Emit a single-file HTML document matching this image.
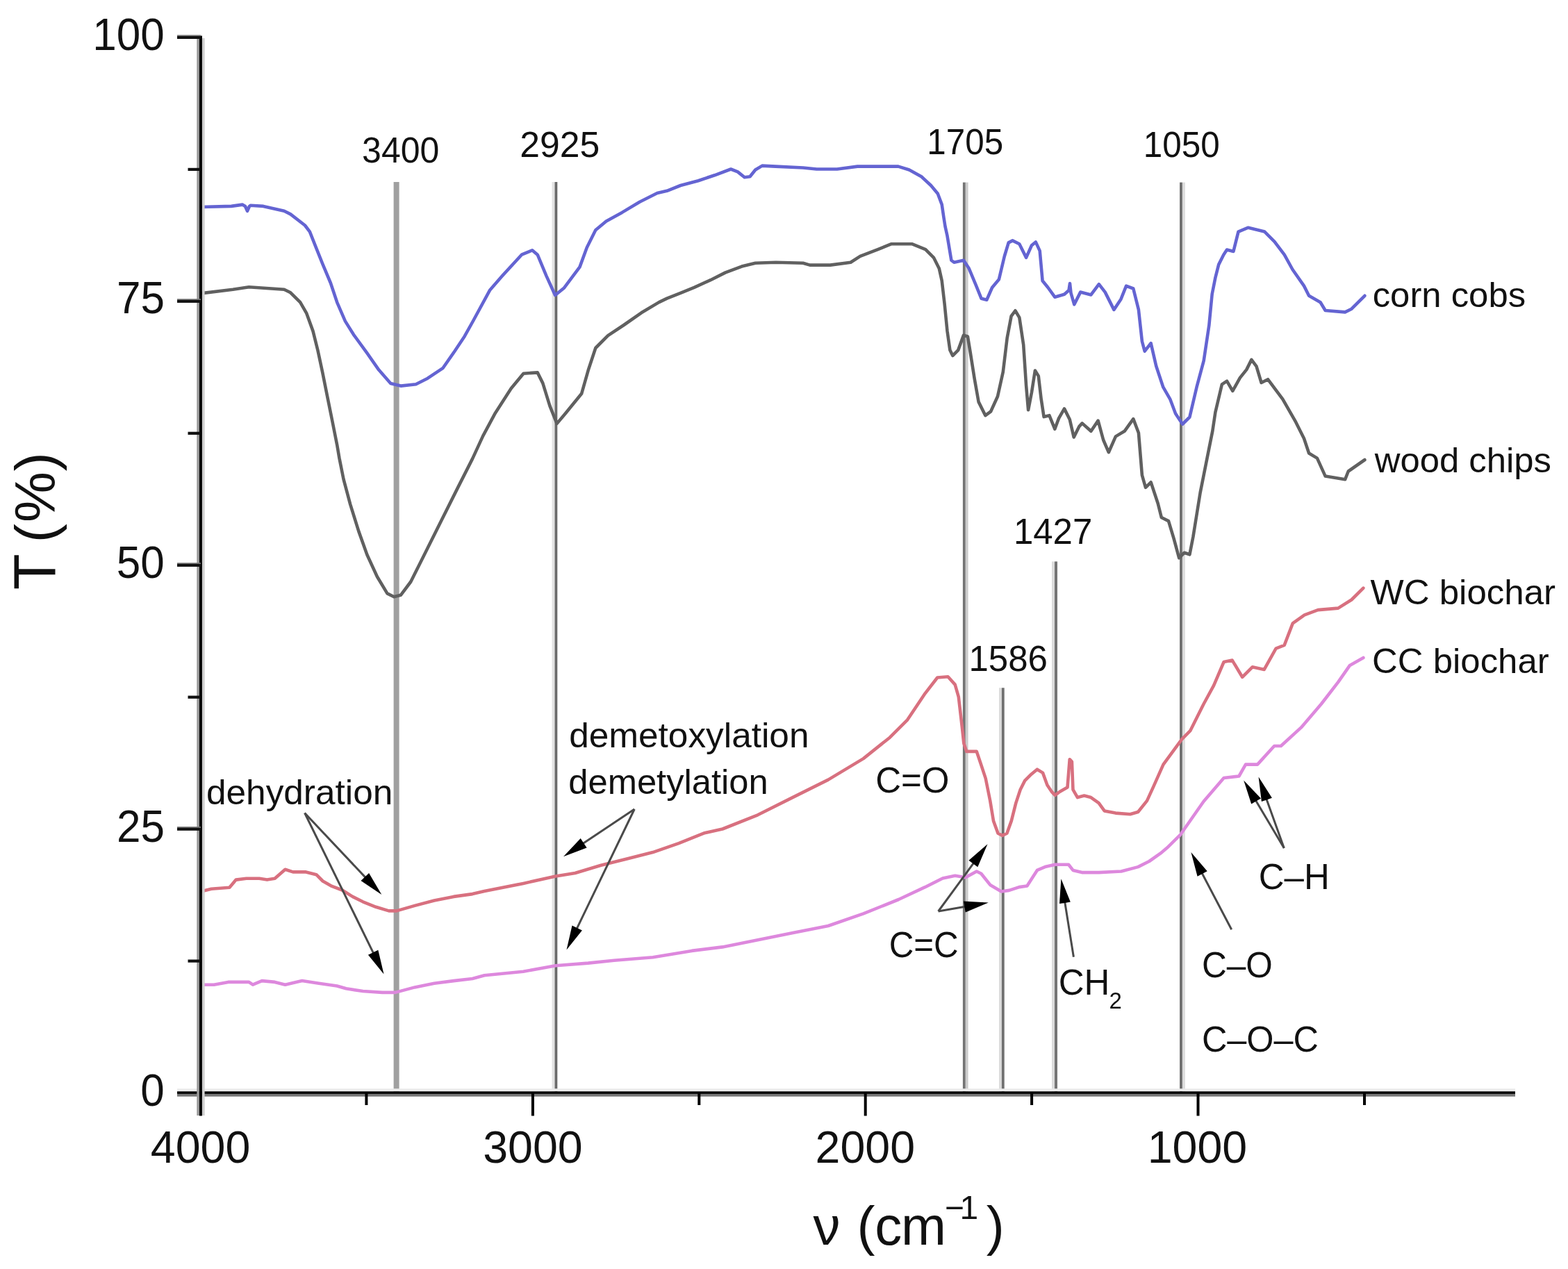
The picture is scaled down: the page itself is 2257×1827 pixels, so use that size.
<!DOCTYPE html>
<html><head><meta charset="utf-8"><title>FTIR spectra</title><style>html,body{margin:0;padding:0;background:#fff;}body{width:2257px;height:1827px;overflow:hidden;}svg{display:block;}</style></head><body>
<svg width="2257" height="1827" viewBox="0 0 2257 1827" font-family="'Liberation Sans', Arial, Helvetica, sans-serif">
<rect width="2257" height="1827" fill="#fff"/>
<rect x="566.6" y="262" width="8" height="1310" fill="#a0a0a0"/>
<rect x="794.5" y="262" width="4" height="1310" fill="#e3e3e3"/>
<rect x="798.5" y="262" width="3.8" height="1310" fill="#6a6a6a"/>
<rect x="1385.9" y="262.6" width="3.9" height="1310" fill="#747474"/>
<rect x="1389.8" y="262.6" width="3.8" height="1310" fill="#cccccc"/>
<rect x="1438" y="990.3" width="3.9" height="582" fill="#dcdcdc"/>
<rect x="1441.9" y="990.3" width="3.8" height="582" fill="#707070"/>
<rect x="1514" y="808.4" width="4" height="764" fill="#dcdcdc"/>
<rect x="1518" y="808.4" width="4" height="764" fill="#757575"/>
<rect x="1698.1" y="262.6" width="3.8" height="1310" fill="#6c6c6c"/>
<rect x="1701.9" y="262.6" width="3.9" height="1310" fill="#dcdcdc"/>
<g fill="none" stroke-linejoin="round" stroke-linecap="round">
<polyline points="289.2,298.0 333.0,296.9 349.1,294.6 353.0,297.0 356.0,303.8 359.0,297.0 360.6,295.7 379.0,296.9 409.0,303.8 418.2,308.4 439.0,324.5 445.9,333.7 455.1,356.8 464.3,379.8 475.9,407.5 485.1,435.1 496.9,462.4 509.0,481.8 528.4,508.4 545.3,532.6 562.3,551.9 576.8,555.6 598.6,553.2 615.5,544.7 637.3,530.2 654.2,506.0 668.7,484.2 680.5,463.0 705.3,417.4 723.1,397.1 750.9,366.7 766.1,360.3 773.7,366.7 786.4,397.1 799.1,425.0 811.7,414.8 834.5,384.4 844.7,356.5 857.3,331.2 872.6,318.5 895.4,305.9 920.7,290.7 946.0,278.0 960.0,274.8 979.6,267.0 1005.0,260.2 1028.6,252.3 1052.0,243.5 1061.9,247.4 1071.7,255.3 1079.5,254.3 1087.3,244.5 1097.1,238.6 1116.7,239.6 1155.9,241.5 1175.5,243.5 1204.9,243.5 1234.2,239.6 1293.0,239.6 1308.7,244.5 1326.3,254.3 1340.0,267.0 1349.8,278.8 1355.7,294.4 1358.6,314.0 1360.5,326.0 1363.5,339.6 1369.4,374.8 1373.3,377.8 1387.0,374.8 1394.8,386.6 1404.6,410.1 1412.5,429.7 1420.3,431.7 1428.1,414.0 1437.9,402.3 1445.8,369.0 1451.7,349.4 1457.5,346.4 1467.3,351.3 1477.1,370.9 1485.0,353.3 1490.8,348.4 1496.7,361.1 1500.6,404.2 1508.5,414.0 1518.3,427.7 1532.0,423.8 1538.5,418.0 1540.0,408.1 1541.5,421.9 1546.3,438.3 1555.2,420.6 1570.4,424.4 1581.8,409.2 1590.7,420.6 1603.4,445.9 1613.5,430.7 1621.1,411.7 1631.3,415.5 1638.9,445.9 1643.9,491.5 1647.7,505.7 1656.6,494.1 1664.2,527.0 1674.3,557.4 1684.5,575.2 1692.1,595.5 1702.2,610.7 1712.4,600.5 1722.5,557.4 1732.7,519.4 1740.3,468.7 1744.7,423.4 1749.4,399.8 1754.2,380.9 1761.3,366.7 1766.0,359.6 1775.4,362.0 1782.5,333.6 1796.7,327.7 1820.3,333.6 1834.5,347.8 1848.7,366.7 1860.5,388.0 1877.0,411.6 1884.1,425.8 1900.6,435.2 1907.7,447.0 1936.1,449.4 1945.5,444.7 1964.4,425.8" stroke="#6464d2" stroke-width="4.6"/>
<polyline points="289.2,422.4 335.3,416.7 358.3,413.2 409.0,416.7 418.2,421.3 432.1,435.1 441.3,451.2 450.5,476.6 457.4,504.2 464.3,536.5 471.2,571.0 478.2,605.6 485.1,640.2 488.5,660.0 494.5,689.9 504.2,726.1 516.3,764.9 528.4,798.7 542.9,830.2 557.4,854.4 567.1,859.2 576.8,856.8 591.3,837.5 610.7,798.7 634.9,750.3 659.1,701.9 680.0,660.6 695.2,627.6 712.9,594.7 735.7,559.2 753.5,537.7 773.7,536.4 781.3,551.6 791.5,584.6 801.6,609.9 814.3,594.7 837.1,566.8 847.2,531.4 857.3,501.0 875.1,483.2 897.9,468.0 923.2,450.3 948.6,435.1 960.0,429.6 979.6,421.8 999.2,413.9 1022.7,403.2 1044.2,392.4 1067.7,383.6 1087.3,378.7 1116.7,377.7 1155.9,378.7 1165.7,381.6 1195.1,381.6 1224.4,377.7 1238.2,368.9 1263.6,359.1 1283.2,351.2 1312.6,351.2 1332.2,359.1 1343.9,370.8 1351.8,386.5 1355.7,404.0 1359.6,437.5 1363.5,476.7 1367.4,504.1 1371.3,512.0 1379.2,504.1 1387.0,482.6 1392.9,484.5 1396.8,508.0 1402.7,545.3 1408.6,578.6 1418.4,598.2 1426.2,592.3 1436.0,570.7 1443.8,535.5 1449.7,486.5 1455.6,455.2 1461.4,447.3 1467.3,457.1 1473.2,496.3 1477.1,555.1 1480.1,590.3 1485.0,564.9 1489.9,533.5 1494.8,541.4 1498.7,574.7 1502.6,600.1 1510.4,598.2 1518.3,617.7 1524.1,602.1 1532.0,588.4 1539.8,604.0 1545.7,629.5 1553.5,613.8 1557.7,609.4 1570.4,620.8 1580.6,605.6 1588.2,633.5 1595.8,651.2 1605.9,628.4 1618.6,620.8 1631.3,603.1 1638.9,623.3 1643.9,684.2 1649.0,701.9 1656.6,694.3 1666.7,724.7 1671.8,745.0 1682.0,750.1 1689.6,775.4 1697.2,803.3 1704.8,795.7 1712.4,798.3 1717.4,772.9 1727.6,709.5 1737.7,658.8 1745.3,620.8 1749.4,593.5 1758.9,553.3 1766.0,548.6 1774.3,562.8 1784.9,543.9 1794.3,532.1 1801.4,517.9 1808.5,527.3 1815.6,551.0 1825.0,546.2 1846.3,574.6 1865.2,607.7 1877.0,631.3 1884.1,652.5 1895.9,659.6 1907.7,685.6 1936.1,690.3 1940.8,678.5 1964.4,662.0" stroke="#606060" stroke-width="4.6"/>
<polyline points="289.2,1283.4 304.2,1279.7 330.3,1277.8 339.7,1266.6 354.6,1264.8 373.2,1264.8 384.4,1266.6 395.6,1264.8 410.5,1251.7 421.7,1255.4 440.4,1255.4 455.3,1259.2 464.6,1268.5 477.7,1275.9 492.6,1281.5 507.5,1290.9 522.4,1298.3 541.1,1305.8 559.7,1311.4 570.9,1311.4 597.0,1303.9 625.0,1296.5 653.0,1290.9 680.0,1287.1 697.3,1283.1 753.2,1271.9 799.9,1261.6 827.8,1257.0 865.1,1245.8 902.4,1236.5 939.7,1227.1 977.0,1214.1 1014.3,1199.2 1040.0,1193.5 1090.7,1173.3 1141.4,1147.9 1192.1,1122.6 1242.8,1092.1 1280.9,1061.7 1306.2,1036.3 1331.6,998.3 1349.3,975.5 1364.5,974.2 1374.7,985.6 1379.8,1003.4 1384.8,1046.5 1387.3,1070.0 1391.3,1081.9 1405.8,1081.9 1412.3,1101.3 1418.7,1120.6 1425.2,1152.9 1430.0,1181.9 1436.5,1199.7 1442.9,1202.9 1449.4,1199.7 1455.8,1181.9 1462.3,1156.1 1468.7,1136.8 1475.2,1123.9 1483.2,1115.8 1492.9,1107.7 1501.0,1112.6 1507.4,1130.3 1513.9,1140.0 1518.7,1144.8 1525.2,1140.0 1536.5,1133.5 1539.7,1093.2 1542.9,1096.5 1544.5,1136.8 1551.0,1148.1 1560.6,1145.6 1570.3,1148.1 1581.6,1156.1 1589.7,1167.4 1605.8,1170.6 1626.8,1172.3 1638.1,1169.0 1651.0,1152.9 1660.6,1131.9 1674.5,1100.6 1701.1,1064.3 1713.2,1052.2 1732.6,1013.5 1747.1,986.9 1761.6,953.0 1773.7,950.6 1788.2,974.8 1802.7,960.3 1819.7,963.9 1836.6,933.7 1848.7,928.9 1860.8,897.4 1877.7,885.3 1897.1,878.1 1926.1,875.6 1945.4,863.5 1962.4,846.6" stroke="#d8707f" stroke-width="4.6"/>
<polyline points="289.2,1417.7 308.0,1417.7 328.5,1413.9 358.3,1413.9 363.9,1417.7 377.0,1412.1 395.6,1413.9 410.5,1417.7 434.8,1412.1 459.0,1415.8 485.1,1419.5 498.2,1423.3 522.4,1427.0 550.4,1428.9 569.0,1428.9 597.0,1421.4 625.0,1415.8 653.0,1412.1 680.0,1409.0 697.3,1404.3 753.2,1398.7 799.9,1390.3 846.5,1386.6 883.8,1382.8 939.7,1378.2 995.7,1368.9 1040.0,1363.4 1090.7,1353.3 1141.4,1343.1 1192.1,1333.0 1242.8,1315.3 1293.5,1295.0 1331.6,1277.2 1356.9,1264.5 1374.7,1260.7 1389.9,1263.3 1405.8,1254.5 1412.3,1257.7 1425.2,1273.9 1441.3,1283.5 1452.6,1281.9 1467.1,1277.1 1478.4,1275.5 1492.9,1252.9 1504.2,1248.1 1518.7,1244.8 1538.1,1244.8 1544.5,1252.9 1557.4,1256.1 1581.6,1256.1 1613.9,1254.5 1638.1,1248.1 1654.2,1240.0 1670.3,1228.7 1680.0,1220.6 1698.7,1202.2 1732.6,1153.8 1761.6,1120.0 1783.4,1117.5 1793.0,1100.6 1810.0,1100.6 1834.2,1074.0 1843.8,1074.0 1872.9,1047.4 1901.9,1013.5 1926.1,982.1 1943.0,957.9 1962.4,947.0" stroke="#dd88dd" stroke-width="4.6"/>
</g>
<rect x="255" y="1567.3" width="1926" height="4" fill="#ececec"/>
<rect x="255" y="1574.7" width="1926" height="4" fill="#777"/>
<rect x="255" y="1571.3" width="1926" height="3.6" fill="#000"/>
<rect x="283.3" y="52" width="3.6" height="1554" fill="#9a9a9a"/>
<rect x="290.9" y="55" width="3.7" height="1551" fill="#cfcfcf"/>
<rect x="286.9" y="51.5" width="4" height="1555" fill="#000"/>
<rect x="255" y="50.3" width="34" height="2" fill="#777"/>
<rect x="255" y="52.0" width="34" height="4" fill="#111"/>
<rect x="255" y="430.2" width="34" height="2" fill="#777"/>
<rect x="255" y="431.9" width="34" height="4" fill="#111"/>
<rect x="255" y="810.2" width="34" height="2" fill="#777"/>
<rect x="255" y="811.9" width="34" height="4" fill="#111"/>
<rect x="255" y="1190.1" width="34" height="2" fill="#777"/>
<rect x="255" y="1191.8" width="34" height="4" fill="#111"/>
<rect x="270.5" y="241.8" width="18" height="4.2" fill="#111"/>
<rect x="270.5" y="621.7" width="18" height="4.2" fill="#111"/>
<rect x="270.5" y="1001.6" width="18" height="4.2" fill="#111"/>
<rect x="270.5" y="1381.5" width="18" height="4.2" fill="#111"/>
<rect x="764.9" y="1572" width="4" height="34.5" fill="#000"/>
<rect x="1243.7" y="1572" width="4" height="34.5" fill="#000"/>
<rect x="1722.5" y="1572" width="4" height="34.5" fill="#000"/>
<rect x="525.4" y="1572" width="4" height="19" fill="#000"/>
<rect x="1004.3" y="1572" width="4" height="19" fill="#000"/>
<rect x="1483.1" y="1572" width="4" height="19" fill="#000"/>
<rect x="1962.0" y="1572" width="4" height="19" fill="#000"/>
<text transform="translate(133.2,71.8) scale(0.970,1)" font-size="64" fill="#111">100</text>
<text transform="translate(168.0,451.4) scale(0.970,1)" font-size="64" fill="#111">75</text>
<text transform="translate(167.8,831.7) scale(0.970,1)" font-size="64" fill="#111">50</text>
<text transform="translate(168.0,1211.6) scale(0.970,1)" font-size="64" fill="#111">25</text>
<text transform="translate(202.3,1591.5) scale(0.970,1)" font-size="64" fill="#111">0</text>
<text x="216.8" y="1673.9" font-size="64.5" fill="#111">4000</text>
<text x="695.2" y="1673.9" font-size="64.5" fill="#111">3000</text>
<text x="1173.6" y="1673.9" font-size="64.5" fill="#111">2000</text>
<text x="1651.7" y="1673.9" font-size="64.5" fill="#111">1000</text>
<text transform="translate(521.1,233.5) scale(0.980,1)" font-size="51" fill="#111">3400</text>
<text transform="translate(748.3,225.7) scale(1.014,1)" font-size="51" fill="#111">2925</text>
<text transform="translate(1334.3,222.4) scale(0.968,1)" font-size="51" fill="#111">1705</text>
<text transform="translate(1645.7,226.0) scale(0.969,1)" font-size="51" fill="#111">1050</text>
<text x="1458.9" y="782.9" font-size="51" fill="#111">1427</text>
<text x="1394.5" y="966.2" font-size="51" fill="#111">1586</text>
<text transform="translate(1975.7,442.0) scale(1.017,1)" font-size="50" fill="#111">corn cobs</text>
<text transform="translate(1978.7,680.3) scale(1.017,1)" font-size="50" fill="#111">wood chips</text>
<text transform="translate(1972.5,869.6) scale(1.021,1)" font-size="50" fill="#111">WC biochar</text>
<text transform="translate(1975.1,968.8) scale(1.018,1)" font-size="50" fill="#111">CC biochar</text>
<text transform="translate(297.0,1158.3) scale(1.027,1)" font-size="50" fill="#111">dehydration</text>
<text transform="translate(819.2,1076.3) scale(1.027,1)" font-size="50" fill="#111">demetoxylation</text>
<text transform="translate(818.3,1142.5) scale(1.014,1)" font-size="50" fill="#111">demetylation</text>
<text x="1260.2" y="1140.7" font-size="51" fill="#111">C=O</text>
<text transform="translate(1279.7,1378.1) scale(0.966,1)" font-size="51" fill="#111">C=C</text>
<text x="1811.7" y="1279.7" font-size="51" fill="#111">C–H</text>
<text transform="translate(1729.9,1407.0) scale(0.971,1)" font-size="51" fill="#111">C–O</text>
<text transform="translate(1729.9,1514.0) scale(0.988,1)" font-size="51" fill="#111">C–O–C</text>
<text font-size="51" fill="#111"><tspan x="1523.7" y="1432.2">CH</tspan><tspan x="1596.6" y="1451.9" font-size="33">2</tspan></text>
<text font-size="78" fill="#111"><tspan x="1170.4" y="1791.6">ν</tspan><tspan x="1233.4" y="1791.6">(</tspan><tspan x="1259.2" y="1791.6">c</tspan><tspan x="1297.0" y="1791.6">m</tspan><tspan x="1359.7" y="1754.8" font-size="48">−</tspan><tspan x="1381.4" y="1754.8" font-size="48">1</tspan><tspan x="1419.7" y="1791.6">)</tspan></text>
<text font-size="82" fill="#111" transform="translate(78.5,850) rotate(-90)"><tspan x="0.7" y="0" font-size="85">T</tspan><tspan x="68.7" y="0">(</tspan><tspan x="97.9" y="0">%</tspan><tspan x="171.4" y="0">)</tspan></text>
<line x1="438.6" y1="1170.5" x2="528.0" y2="1265.4" stroke="#4a4a4a" stroke-width="3"/><polygon points="549.3,1288.0 519.5,1268.0 525.3,1262.5 531.1,1257.0" fill="#000"/>
<line x1="438.6" y1="1170.5" x2="538.8" y2="1374.8" stroke="#4a4a4a" stroke-width="3"/><polygon points="552.5,1402.6 529.9,1374.7 537.1,1371.2 544.3,1367.7" fill="#000"/>
<line x1="913.2" y1="1165.0" x2="836.8" y2="1216.0" stroke="#4a4a4a" stroke-width="3"/><polygon points="811.0,1233.2 835.7,1207.1 840.1,1213.8 844.6,1220.4" fill="#000"/>
<line x1="913.2" y1="1165.0" x2="829.0" y2="1339.6" stroke="#4a4a4a" stroke-width="3"/><polygon points="815.5,1367.5 823.5,1332.5 830.7,1336.0 837.9,1339.5" fill="#000"/>
<line x1="1350.6" y1="1312.0" x2="1403.2" y2="1240.2" stroke="#4a4a4a" stroke-width="3"/><polygon points="1421.5,1215.2 1407.3,1248.2 1400.8,1243.4 1394.4,1238.7" fill="#000"/>
<line x1="1350.6" y1="1312.0" x2="1392.2" y2="1304.8" stroke="#4a4a4a" stroke-width="3"/><polygon points="1422.8,1299.6 1389.7,1313.4 1388.3,1305.5 1387.0,1297.6" fill="#000"/>
<line x1="1545.4" y1="1377.8" x2="1532.3" y2="1295.9" stroke="#4a4a4a" stroke-width="3"/><polygon points="1527.4,1265.3 1540.8,1298.6 1532.9,1299.9 1525.0,1301.1" fill="#000"/>
<line x1="1772.7" y1="1338.3" x2="1728.8" y2="1254.5" stroke="#4a4a4a" stroke-width="3"/><polygon points="1714.4,1227.0 1737.7,1254.3 1730.6,1258.0 1723.6,1261.7" fill="#000"/>
<line x1="1848.3" y1="1221.0" x2="1806.1" y2="1150.0" stroke="#4a4a4a" stroke-width="3"/><polygon points="1790.2,1123.4 1815.0,1149.4 1808.1,1153.5 1801.2,1157.6" fill="#000"/>
<line x1="1848.3" y1="1221.0" x2="1822.0" y2="1147.7" stroke="#4a4a4a" stroke-width="3"/><polygon points="1811.6,1118.5 1830.9,1148.8 1823.4,1151.5 1815.9,1154.1" fill="#000"/>
</svg>
</body></html>
